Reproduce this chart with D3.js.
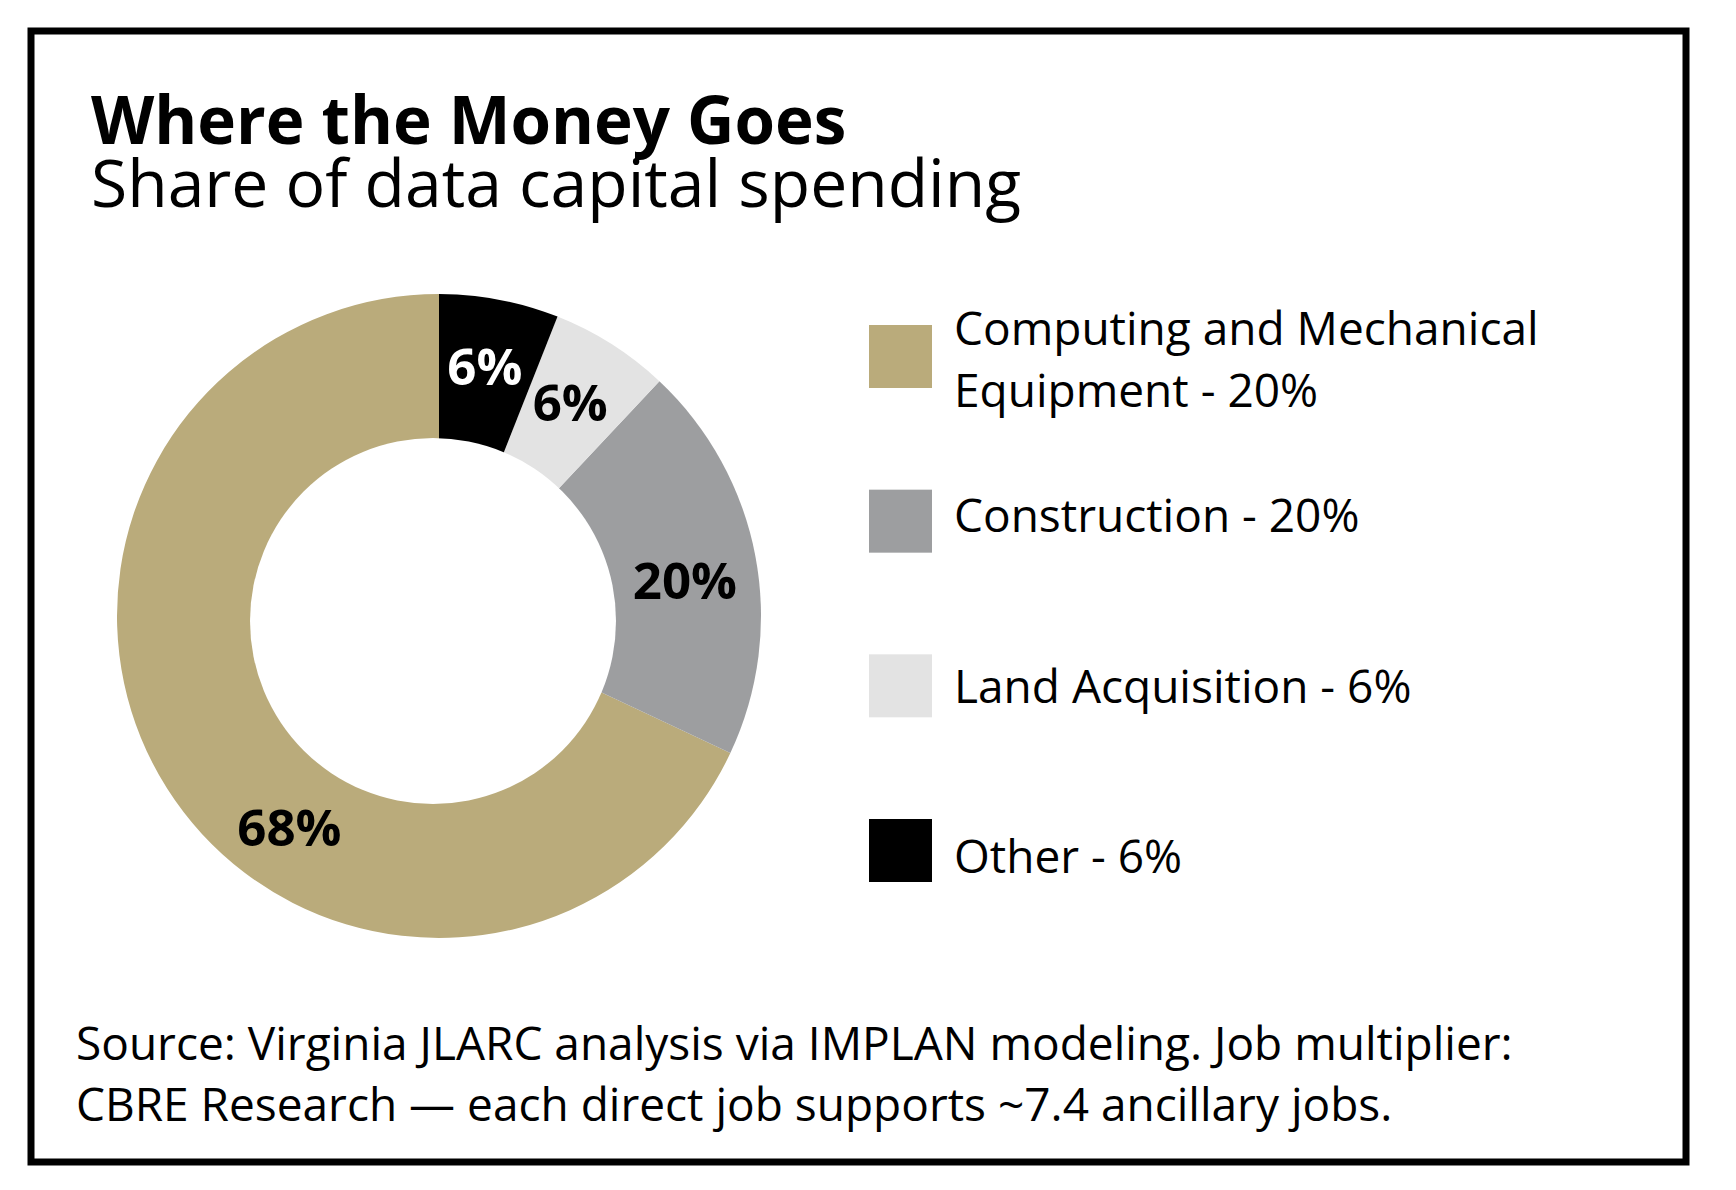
<!DOCTYPE html>
<html>
<head>
<meta charset="utf-8">
<script src="https://cdn.jsdelivr.net/npm/d3@7"></script>
<style>
  body { margin: 0; background: #fff; }
  svg { display: block; font-family: "Open Sans", "Noto Sans", sans-serif; }
</style>
</head>
<body>
<div id="chart"></div>
<script>
// legend order
const categories = ["Computing and Mechanical Equipment", "Construction", "Land Acquisition", "Other"];
const sliceValues = [68, 20, 6, 6];
const legendLabels = [
  ["Computing and Mechanical", "Equipment - 20%"],
  ["Construction - 20%"],
  ["Land Acquisition - 6%"],
  ["Other - 6%"]
];
const colors = ["#baab7b", "#9d9ea0", "#e3e3e3", "#000000"];
const labelColors = ["#000", "#000", "#000", "#fff"];
// [degrees round, px outwards] from the slice middle for each label
const labelNudge = [[-22.4, 7], [2.5, -4], [-0.8, -2], [-0.4, 1]];

const width = 1736, height = 1190;

const svg = d3.select("#chart")
  .append("svg")
  .attr("width", width)
  .attr("height", height);

// frame
svg.append("rect")
  .attr("x", 31).attr("y", 31)
  .attr("width", 1655).attr("height", 1131)
  .attr("fill", "none")
  .attr("stroke", "#000")
  .attr("stroke-width", 7);

svg.append("text")
  .attr("x", 91).attr("y", 144)
  .style("font-weight", 700)
  .style("font-size", "65.5px")
  .text("Where the Money Goes");

svg.append("text")
  .attr("x", 91).attr("y", 207)
  .style("font-size", "66px")
  .text("Share of data capital spending");

// donut
const cx = 439, cy = 616, outerR = 322, innerR = 183;
const g = svg.append("g").attr("transform", `translate(${cx},${cy})`);

const slices = categories.map((c, i) => ({ name: c, value: sliceValues[i], i }));

// clockwise from 12 o'clock: Other, Land, Construction, Computing
const pie = d3.pie()
  .value(d => d.value)
  .sort((a, b) => b.i - a.i);

const arc = d3.arc().innerRadius(0).outerRadius(outerR);
const arcs = pie(slices);

g.selectAll("path.slice")
  .data(arcs)
  .enter()
  .append("path")
  .attr("class", "slice")
  .attr("fill", d => colors[d.data.i])
  .attr("d", arc);

// hole, sitting a touch low-left of the ring centre as in the original
g.append("circle")
  .attr("cx", -6).attr("cy", 5)
  .attr("r", innerR)
  .attr("fill", "#fff");

const midR = (innerR + outerR) / 2;

g.selectAll("text.pct")
  .data(arcs)
  .enter()
  .append("text")
  .attr("class", "pct")
  .attr("transform", d => {
    const [da, dr] = labelNudge[d.data.i];
    const a = (d.startAngle + d.endAngle) / 2 + da * Math.PI / 180;
    const r = midR + dr;
    return `translate(${r * Math.sin(a)},${-r * Math.cos(a)})`;
  })
  .attr("text-anchor", "middle")
  .attr("dy", "0.36em")
  .attr("fill", d => labelColors[d.data.i])
  .style("font-weight", 700)
  .style("font-size", "51px")
  .text(d => d.data.value + "%");

// legend
const swatchY = d3.scaleLinear().domain([0, 3]).range([357, 851]);
const textY = d3.scaleLinear().domain([1, 3]).range([532, 873]);

const legend = svg.selectAll("g.legend")
  .data(categories)
  .enter()
  .append("g")
  .attr("class", "legend");

legend.append("rect")
  .attr("x", 869)
  .attr("y", (d, i) => swatchY(i) - 32)
  .attr("width", 63).attr("height", 63)
  .attr("fill", (d, i) => colors[i]);

legend.append("text")
  .style("font-size", "46px")
  .each(function (d, i) {
    const lines = legendLabels[i];
    const t = d3.select(this);
    lines.forEach((line, j) => {
      t.append("tspan")
        .attr("x", 954)
        .attr("y", textY(i) + (j - (lines.length - 1) * 0.27) * 62)
        .text(line);
    });
  });

// source note
const notes = [
  "Source: Virginia JLARC analysis via IMPLAN modeling. Job multiplier:",
  "CBRE Research \u2014 each direct job supports ~7.4 ancillary jobs."
];
svg.selectAll("text.note")
  .data(notes)
  .enter()
  .append("text")
  .attr("class", "note")
  .attr("x", 76)
  .attr("y", (d, i) => 1060 + i * 61)
  .style("font-size", "46px")
  .text(d => d);
</script>
</body>
</html>
